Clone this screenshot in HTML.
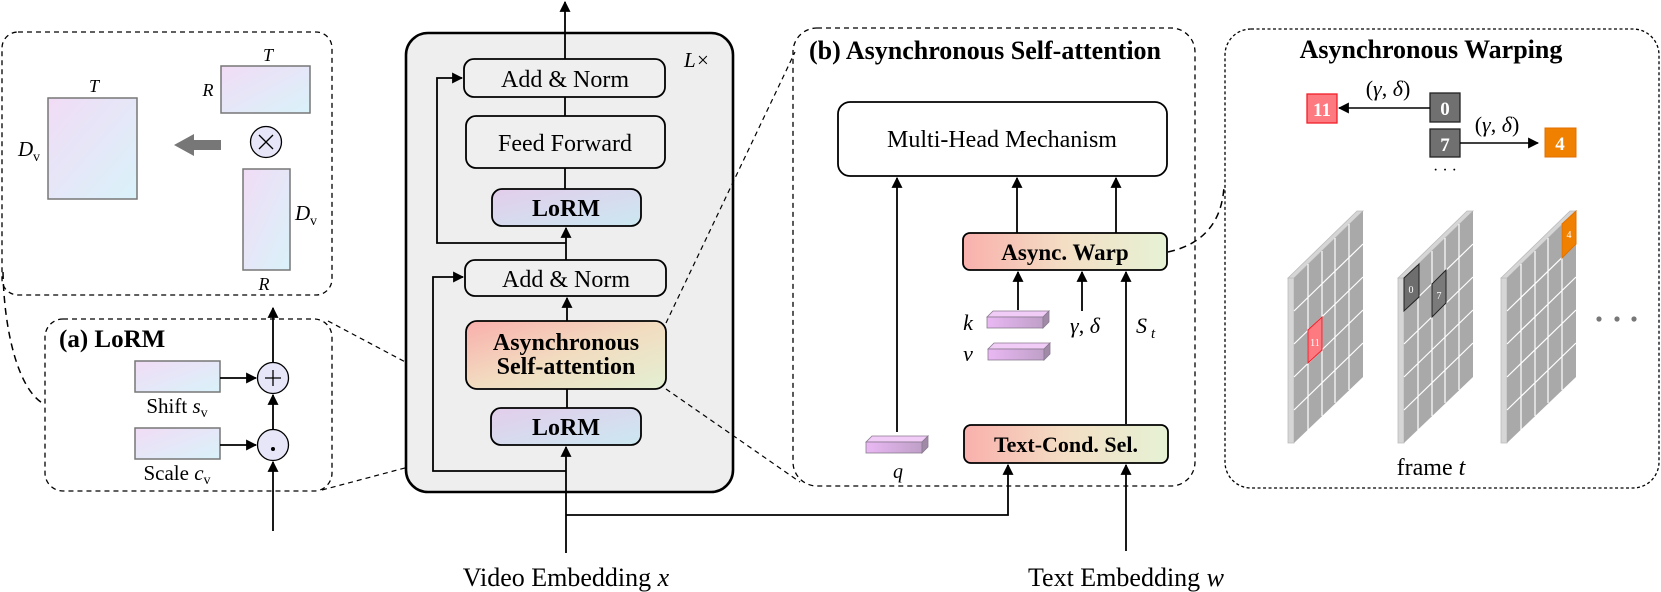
<!DOCTYPE html>
<html><head><meta charset="utf-8"><style>
html,body{margin:0;padding:0;background:#fff;}
svg{display:block;}
text{font-family:"Liberation Serif",serif;fill:#000;}
.b{font-weight:bold;}
.i{font-style:italic;}
</style></head><body>
<svg width="1661" height="592" viewBox="0 0 1661 592" xmlns="http://www.w3.org/2000/svg">
<defs>
<marker id="a2" viewBox="0 0 10 10" refX="9" refY="5" markerWidth="11" markerHeight="11" orient="auto" markerUnits="userSpaceOnUse"><path d="M0,0 L10,5 L0,10 z" fill="#000"/></marker>
<linearGradient id="mat" x1="0" y1="0" x2="1" y2="1"><stop offset="0" stop-color="#f1dcf5"/><stop offset="1" stop-color="#d9f2fa"/></linearGradient>
<linearGradient id="lorm" x1="0" y1="0" x2="1" y2="1"><stop offset="0" stop-color="#e3cdeb"/><stop offset="1" stop-color="#cbe8f1"/></linearGradient>
<linearGradient id="asa" x1="0" y1="0" x2="1" y2="1"><stop offset="0" stop-color="#f9aeac"/><stop offset="0.5" stop-color="#f2dcc0"/><stop offset="1" stop-color="#e3f0d3"/></linearGradient>
<linearGradient id="asw" x1="0" y1="0" x2="1" y2="0"><stop offset="0" stop-color="#f9b0ac"/><stop offset="0.5" stop-color="#f3dec4"/><stop offset="1" stop-color="#e6f2d5"/></linearGradient>
<linearGradient id="prism" x1="0" y1="0" x2="1" y2="0"><stop offset="0" stop-color="#eab8f4"/><stop offset="1" stop-color="#bfa0c8"/></linearGradient>
</defs>

<rect x="2" y="32" width="330" height="263" rx="16" fill="none" stroke="#000" stroke-width="1.3" stroke-dasharray="5,4"/>
<rect x="48" y="98" width="89" height="101" fill="url(#mat)" stroke="#777" stroke-width="1.5"/>
<text x="94" y="92" font-size="18" class="i" text-anchor="middle">T</text>
<text x="18" y="156" font-size="21" class="i">D</text><text x="33" y="161" font-size="14">v</text>
<rect x="221" y="66" width="89" height="47" fill="url(#mat)" stroke="#777" stroke-width="1.5"/>
<text x="268" y="61" font-size="18" class="i" text-anchor="middle">T</text>
<text x="208" y="96" font-size="18" class="i" text-anchor="middle">R</text>
<circle cx="266" cy="142" r="15.5" fill="#e6e6f8" stroke="#000" stroke-width="1.3"/>
<path d="M259,135 L273,149 M273,135 L259,149" stroke="#000" stroke-width="1.3"/>
<path d="M221,140 L194,140 L194,134 L174,145 L194,156 L194,150 L221,150 z" fill="#777"/>
<rect x="243" y="169" width="47" height="101" fill="url(#mat)" stroke="#777" stroke-width="1.5"/>
<text x="295" y="220" font-size="21" class="i">D</text><text x="310" y="225" font-size="14">v</text>
<text x="264" y="290" font-size="18" class="i" text-anchor="middle">R</text>

<path d="M3,272 C4,330 18,390 44,404" fill="none" stroke="#000" stroke-width="1.5" stroke-dasharray="7,5"/>

<rect x="45" y="319" width="287" height="172" rx="18" fill="none" stroke="#000" stroke-width="1.3" stroke-dasharray="5,4"/>
<text x="59" y="347" font-size="25" class="b">(a) LoRM</text>
<rect x="135" y="361" width="85" height="31" fill="url(#mat)" stroke="#777" stroke-width="1.5"/>
<text x="177" y="413" font-size="21" text-anchor="middle">Shift <tspan class="i">s</tspan><tspan font-size="14" dy="4">v</tspan></text>
<rect x="135" y="428" width="85" height="31" fill="url(#mat)" stroke="#777" stroke-width="1.5"/>
<text x="177" y="480" font-size="21" text-anchor="middle">Scale <tspan class="i">c</tspan><tspan font-size="14" dy="4">v</tspan></text>
<line x1="220" y1="378" x2="256" y2="378" stroke="#000" stroke-width="1.8" marker-end="url(#a2)"/>
<line x1="220" y1="445" x2="256" y2="445" stroke="#000" stroke-width="1.8" marker-end="url(#a2)"/>
<circle cx="273" cy="378" r="15.5" fill="#e6e6f8" stroke="#000" stroke-width="1.3"/>
<path d="M265,378 L281,378 M273,370 L273,386" stroke="#000" stroke-width="1.3"/>
<circle cx="273" cy="445" r="15.5" fill="#e6e6f8" stroke="#000" stroke-width="1.3"/>
<circle cx="273" cy="449" r="2" fill="#000"/>
<line x1="273" y1="531" x2="273" y2="462" stroke="#000" stroke-width="1.8" marker-end="url(#a2)"/>
<line x1="273" y1="429" x2="273" y2="395" stroke="#000" stroke-width="1.8" marker-end="url(#a2)"/>
<line x1="273" y1="362" x2="273" y2="308" stroke="#000" stroke-width="1.8" marker-end="url(#a2)"/>

<line x1="328" y1="321" x2="494" y2="409" stroke="#000" stroke-width="1.2" stroke-dasharray="5,4"/>
<line x1="322" y1="490" x2="495" y2="444" stroke="#000" stroke-width="1.2" stroke-dasharray="5,4"/>

<line x1="565" y1="40" x2="565" y2="2" stroke="#000" stroke-width="1.8" marker-end="url(#a2)"/>
<rect x="406" y="33" width="327" height="459" rx="22" fill="#eeeeee" stroke="#000" stroke-width="2.6"/>
<text x="684" y="67" font-size="21" class="i">L</text><text x="697" y="67" font-size="21">×</text>
<line x1="565" y1="33" x2="565" y2="59" stroke="#000" stroke-width="1.8"/>
<line x1="565" y1="97" x2="565" y2="116" stroke="#000" stroke-width="1.8"/>
<line x1="565" y1="168" x2="565" y2="189" stroke="#000" stroke-width="1.8"/>
<line x1="566" y1="260" x2="566" y2="228" stroke="#000" stroke-width="1.8" marker-end="url(#a2)"/>
<line x1="567" y1="321" x2="567" y2="298" stroke="#000" stroke-width="1.8" marker-end="url(#a2)"/>
<line x1="567" y1="408" x2="567" y2="389" stroke="#000" stroke-width="1.8"/>
<line x1="566" y1="553" x2="566" y2="447" stroke="#000" stroke-width="1.8" marker-end="url(#a2)"/>
<polyline points="566,243 437,243 437,78 462,78" fill="none" stroke="#000" stroke-width="1.8" marker-end="url(#a2)"/>
<polyline points="566,471 433,471 433,277 463,277" fill="none" stroke="#000" stroke-width="1.8" marker-end="url(#a2)"/>
<polyline points="566,515 1008,515 1008,465" fill="none" stroke="#000" stroke-width="1.8" marker-end="url(#a2)"/>

<rect x="464" y="59" width="201" height="38" rx="10" fill="#efefef" stroke="#000" stroke-width="1.8"/>
<text x="565" y="87" font-size="24" text-anchor="middle">Add &amp; Norm</text>
<rect x="466" y="116" width="199" height="52" rx="10" fill="#efefef" stroke="#000" stroke-width="1.8"/>
<text x="565" y="151" font-size="24" text-anchor="middle">Feed Forward</text>
<rect x="492" y="189" width="149" height="37" rx="10" fill="url(#lorm)" stroke="#000" stroke-width="1.8"/>
<text x="566" y="216" font-size="24" class="b" text-anchor="middle">LoRM</text>
<rect x="465" y="260" width="201" height="36" rx="10" fill="#efefef" stroke="#000" stroke-width="1.8"/>
<text x="566" y="287" font-size="24" text-anchor="middle">Add &amp; Norm</text>
<rect x="466" y="321" width="200" height="68" rx="11" fill="url(#asa)" stroke="#000" stroke-width="1.8"/>
<text x="566" y="350" font-size="24" class="b" text-anchor="middle">Asynchronous</text>
<text x="566" y="374" font-size="24" class="b" text-anchor="middle">Self-attention</text>
<rect x="491" y="408" width="150" height="37" rx="10" fill="url(#lorm)" stroke="#000" stroke-width="1.8"/>
<text x="566" y="435" font-size="24" class="b" text-anchor="middle">LoRM</text>

<text x="566" y="586" font-size="26" text-anchor="middle">Video Embedding <tspan class="i">x</tspan></text>

<line x1="666" y1="323" x2="795" y2="52" stroke="#000" stroke-width="1.2" stroke-dasharray="5,4"/>
<line x1="666" y1="389" x2="800" y2="482" stroke="#000" stroke-width="1.2" stroke-dasharray="5,4"/>

<rect x="793" y="28" width="402" height="458" rx="24" fill="none" stroke="#000" stroke-width="1.3" stroke-dasharray="5,4"/>
<text x="809" y="59" font-size="26" class="b">(b) Asynchronous Self-attention</text>
<rect x="838" y="102" width="329" height="74" rx="12" fill="#fff" stroke="#000" stroke-width="1.8"/>
<text x="1002" y="147" font-size="24" text-anchor="middle">Multi-Head Mechanism</text>
<line x1="897" y1="432" x2="897" y2="178" stroke="#000" stroke-width="1.8" marker-end="url(#a2)"/>
<line x1="1017" y1="233" x2="1017" y2="178" stroke="#000" stroke-width="1.8" marker-end="url(#a2)"/>
<line x1="1116" y1="233" x2="1116" y2="178" stroke="#000" stroke-width="1.8" marker-end="url(#a2)"/>
<rect x="963" y="233" width="204" height="37" rx="7" fill="url(#asw)" stroke="#000" stroke-width="1.8"/>
<text x="1065" y="260" font-size="23" class="b" text-anchor="middle">Async. Warp</text>
<line x1="1018" y1="310" x2="1018" y2="272" stroke="#000" stroke-width="1.8" marker-end="url(#a2)"/>
<line x1="1082" y1="311" x2="1082" y2="272" stroke="#000" stroke-width="1.8" marker-end="url(#a2)"/>
<line x1="1126" y1="424" x2="1126" y2="272" stroke="#000" stroke-width="1.8" marker-end="url(#a2)"/>
<g stroke="#8a7a90" stroke-width="0.8">
<path d="M987,317 L993,311 L1049,311 L1043,317 z" fill="#f0ccf6"/>
<rect x="987" y="317" width="56" height="11" fill="url(#prism)"/>
<path d="M1043,317 L1049,311 L1049,322 L1043,328 z" fill="#a08aa8"/>
<path d="M988,349 L994,343 L1050,343 L1044,349 z" fill="#f0ccf6"/>
<rect x="988" y="349" width="56" height="11" fill="url(#prism)"/>
<path d="M1044,349 L1050,343 L1050,354 L1044,360 z" fill="#a08aa8"/>
<path d="M866,442 L872,436 L928,436 L922,442 z" fill="#f0ccf6"/>
<rect x="866" y="442" width="56" height="11" fill="url(#prism)"/>
<path d="M922,442 L928,436 L928,447 L922,453 z" fill="#a08aa8"/>
</g>
<text x="968" y="330" font-size="22" class="i" text-anchor="middle">k</text>
<text x="968" y="361" font-size="22" class="i" text-anchor="middle">v</text>
<text x="1085" y="333" font-size="22" text-anchor="middle"><tspan class="i">γ</tspan>, <tspan class="i">δ</tspan></text>
<text x="1136" y="333" font-size="22" class="i">S</text><text x="1151" y="338" font-size="15" class="i">t</text>
<text x="898" y="478" font-size="20" class="i" text-anchor="middle">q</text>
<rect x="964" y="425" width="204" height="38" rx="7" fill="url(#asw)" stroke="#000" stroke-width="1.8"/>
<text x="1066" y="452" font-size="22" class="b" text-anchor="middle">Text-Cond. Sel.</text>
<line x1="1126" y1="551" x2="1126" y2="465" stroke="#000" stroke-width="1.8" marker-end="url(#a2)"/>
<text x="1126" y="586" font-size="26" text-anchor="middle">Text Embedding <tspan class="i">w</tspan></text>

<path d="M1168,252 C1200,245 1222,225 1224,186" fill="none" stroke="#000" stroke-width="1.5" stroke-dasharray="7,5"/>

<rect x="1225" y="29" width="434" height="459" rx="26" fill="none" stroke="#000" stroke-width="1.3" stroke-dasharray="3,2.5"/>
<text x="1431" y="58" font-size="26" class="b" text-anchor="middle">Asynchronous Warping</text>
<rect x="1307" y="94" width="30" height="29" fill="#fd7a80" stroke="#f01f2a" stroke-width="1.3"/>
<text x="1322" y="116" font-size="19" class="b" text-anchor="middle" style="fill:#fff">11</text>
<rect x="1430" y="93" width="30" height="29" fill="#707070" stroke="#222" stroke-width="1.3"/>
<text x="1445" y="115" font-size="19" class="b" text-anchor="middle" style="fill:#fff">0</text>
<line x1="1430" y1="108" x2="1339" y2="108" stroke="#000" stroke-width="1.6" marker-end="url(#a2)"/>
<text x="1388" y="96" font-size="22" text-anchor="middle">(<tspan class="i">γ</tspan>, <tspan class="i">δ</tspan>)</text>
<rect x="1430" y="129" width="30" height="28" fill="#707070" stroke="#222" stroke-width="1.3"/>
<text x="1445" y="151" font-size="19" class="b" text-anchor="middle" style="fill:#fff">7</text>
<line x1="1460" y1="143" x2="1538" y2="143" stroke="#000" stroke-width="1.6" marker-end="url(#a2)"/>
<text x="1497" y="132" font-size="22" text-anchor="middle">(<tspan class="i">γ</tspan>, <tspan class="i">δ</tspan>)</text>
<rect x="1545" y="128" width="31" height="29" fill="#f08000" stroke="#e07000" stroke-width="1"/>
<text x="1560" y="150" font-size="19" class="b" text-anchor="middle" style="fill:#fff">4</text>
<text x="1445" y="175" font-size="16" text-anchor="middle">· · ·</text>

<g>
<path d="M1288,278 L1294,278 L1294,443 L1288,443 z" fill="#d6d6d6" stroke="#bbb" stroke-width="0.8"/>
<path d="M1288,278 L1357,211 L1363,211 L1294,278 z" fill="#d6d6d6" stroke="#bbb" stroke-width="0.8"/>
<path d="M1294,278 L1363,211 L1363,377 L1294,443 z" fill="#a9a9a9"/>
<g stroke="#fff" stroke-width="1.2">
<line x1="1308" y1="264" x2="1308" y2="430"/><line x1="1322" y1="251" x2="1322" y2="416"/><line x1="1335" y1="238" x2="1335" y2="403"/><line x1="1349" y1="224" x2="1349" y2="390"/>
<line x1="1294" y1="311" x2="1363" y2="244"/><line x1="1294" y1="344" x2="1363" y2="277"/><line x1="1294" y1="377" x2="1363" y2="310"/><line x1="1294" y1="410" x2="1363" y2="343"/>
</g>
<path d="M1308,330 L1322,317 L1322,350 L1308,363 z" fill="#fd7a80" stroke="#f01f2a" stroke-width="1"/>
<text x="1315" y="346" font-size="10" text-anchor="middle" style="fill:#fff">11</text>
</g>
<g>
<path d="M1398,278 L1404,278 L1404,443 L1398,443 z" fill="#d6d6d6" stroke="#bbb" stroke-width="0.8"/>
<path d="M1398,278 L1467,211 L1473,211 L1404,278 z" fill="#d6d6d6" stroke="#bbb" stroke-width="0.8"/>
<path d="M1404,278 L1473,211 L1473,377 L1404,443 z" fill="#a9a9a9"/>
<g stroke="#fff" stroke-width="1.2">
<line x1="1418" y1="264" x2="1418" y2="430"/><line x1="1432" y1="251" x2="1432" y2="416"/><line x1="1445" y1="238" x2="1445" y2="403"/><line x1="1459" y1="224" x2="1459" y2="390"/>
<line x1="1404" y1="311" x2="1473" y2="244"/><line x1="1404" y1="344" x2="1473" y2="277"/><line x1="1404" y1="377" x2="1473" y2="310"/><line x1="1404" y1="410" x2="1473" y2="343"/>
</g>
<path d="M1404,278 L1419,264 L1419,297 L1404,311 z" fill="#6e6e6e" stroke="#222" stroke-width="1"/>
<text x="1411" y="293" font-size="10" text-anchor="middle" style="fill:#fff">0</text>
<path d="M1432,284 L1446,270 L1446,303 L1432,317 z" fill="#7a7a7a" stroke="#222" stroke-width="1"/>
<text x="1439" y="299" font-size="10" text-anchor="middle" style="fill:#fff">7</text>
</g>
<g>
<path d="M1501,278 L1507,278 L1507,443 L1501,443 z" fill="#d6d6d6" stroke="#bbb" stroke-width="0.8"/>
<path d="M1501,278 L1570,211 L1576,211 L1507,278 z" fill="#d6d6d6" stroke="#bbb" stroke-width="0.8"/>
<path d="M1507,278 L1576,211 L1576,377 L1507,443 z" fill="#a9a9a9"/>
<g stroke="#fff" stroke-width="1.2">
<line x1="1521" y1="264" x2="1521" y2="430"/><line x1="1535" y1="251" x2="1535" y2="416"/><line x1="1548" y1="238" x2="1548" y2="403"/><line x1="1562" y1="224" x2="1562" y2="390"/>
<line x1="1507" y1="311" x2="1576" y2="244"/><line x1="1507" y1="344" x2="1576" y2="277"/><line x1="1507" y1="377" x2="1576" y2="310"/><line x1="1507" y1="410" x2="1576" y2="343"/>
</g>
<path d="M1562,224 L1576,211 L1576,244 L1562,258 z" fill="#f08000" stroke="#e07000" stroke-width="1"/>
<text x="1569" y="238" font-size="10" text-anchor="middle" style="fill:#fff">4</text>
</g>
<circle cx="1599" cy="319" r="2.6" fill="#777"/><circle cx="1617" cy="319" r="2.6" fill="#777"/><circle cx="1634" cy="319" r="2.6" fill="#777"/>
<text x="1431" y="475" font-size="24" text-anchor="middle">frame <tspan class="i">t</tspan></text>
</svg>
</body></html>
